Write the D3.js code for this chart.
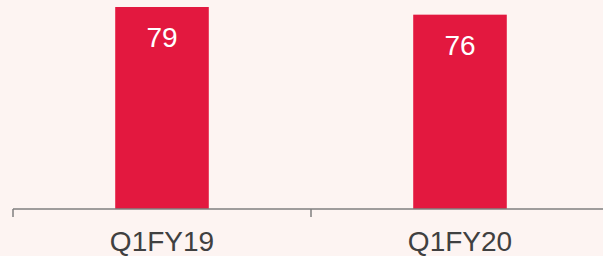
<!DOCTYPE html>
<html>
	<head>
		<meta charset="UTF-8">
		<title></title>
		<style>
			body { margin: 0; background: #fdf4f2; }
			svg { display: block; }
		</style>
	</head>
	<body>
		<svg width="603" height="256"></svg>
		<script src="https://cdn.jsdelivr.net/npm/d3@7/dist/d3.min.js"></script>
		<script>
		var categories = ['Q1FY19', 'Q1FY20'];
		var values = [79, 76];

		var svg = d3.select('svg');
		var baseY = 209;

		// x: one band per category, ticks on the band edges
		var x = d3.scaleBand().domain(categories).range([13, 609])
			.paddingInner(0.686).paddingOuter(0.343);
		var step = x.step();
		var y = d3.scaleLinear().domain([0, 79]).range([baseY, 7]);

		svg.append('rect').attr('width', 603).attr('height', 256).attr('fill', '#fdf4f2');

		svg.selectAll('.bar').data(values).enter().append('rect')
			.attr('class', 'bar')
			.attr('x', function(d, i){ return x(categories[i]); })
			.attr('y', function(d){ return y(d); })
			.attr('width', x.bandwidth())
			.attr('height', function(d){ return baseY - y(d); })
			.attr('fill', '#e3183f');

		svg.selectAll('.val').data(values).enter().append('text')
			.attr('x', function(d, i){ return x(categories[i]) + x.bandwidth() / 2; })
			.attr('y', function(d){ return y(d) + 40; })
			.attr('text-anchor', 'middle')
			.attr('font-family', 'Liberation Sans, Arial, sans-serif')
			.attr('font-size', '28px')
			.attr('fill', '#ffffff')
			.text(function(d){ return d; });

		// axis
		svg.append('line').attr('x1', 13).attr('x2', 603).attr('y1', baseY).attr('y2', baseY)
			.attr('stroke', '#7f7f7f').attr('stroke-width', 1.5);
		var tickXs = categories.map(function(c){ return x(c) - step * 0.343; });
		svg.selectAll('.tick').data(tickXs).enter().append('line')
			.attr('x1', function(d){ return d; }).attr('x2', function(d){ return d; })
			.attr('y1', baseY).attr('y2', baseY + 8)
			.attr('stroke', '#7f7f7f').attr('stroke-width', 1.5);

		svg.selectAll('.lab').data(categories).enter().append('text')
			.attr('x', function(d){ return x(d) + x.bandwidth() / 2; })
			.attr('y', 251)
			.attr('text-anchor', 'middle')
			.attr('font-family', 'Liberation Sans, Arial, sans-serif')
			.attr('font-size', '28px')
			.attr('fill', '#404040')
			.text(function(d){ return d; });
		</script>
	</body>
</html>
